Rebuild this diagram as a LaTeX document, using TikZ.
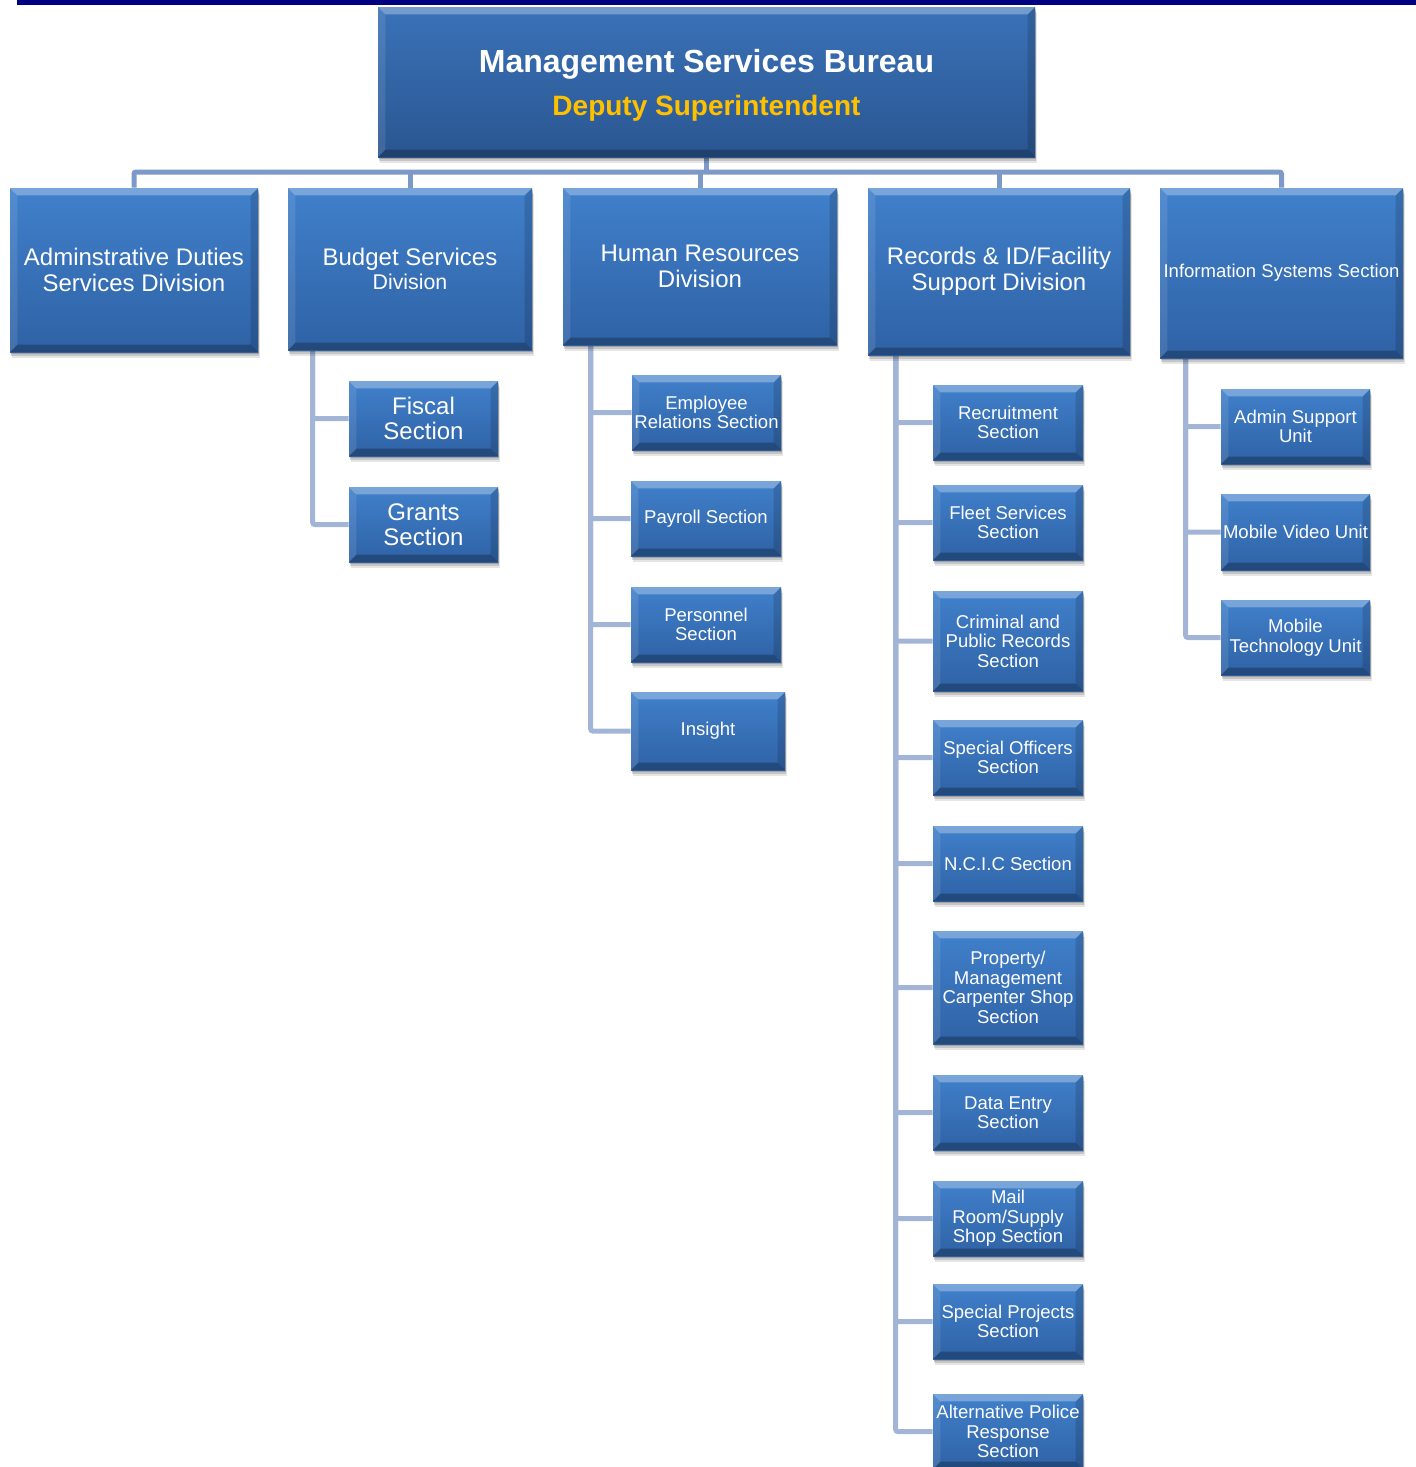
\documentclass[tikz,border=0pt]{standalone}
\usepackage{fontspec}
\setmainfont{Liberation Sans}
\usetikzlibrary{shadows}

\definecolor{navybar}{HTML}{000080}
\definecolor{boxtop}{HTML}{4080CB}
\definecolor{boxbot}{HTML}{2F62A5}
\definecolor{headtop}{HTML}{3A72B8}
\definecolor{headbot}{HTML}{2A5691}
\definecolor{linkmain}{HTML}{7D99C9}
\definecolor{linksub}{HTML}{A3B5D6}
\definecolor{gold}{HTML}{FFC000}

\pgfdeclarelayer{background}
\pgfsetlayers{background,main}

\def\bevelsz{5.5pt}

\tikzset{
  x=0.75pt, y=-0.75pt,
  orgbox/.style={
    rectangle, inner sep=0pt, align=center, text=white,
    top color=boxtop, bottom color=boxbot,
    drop shadow={shadow xshift=1.5pt, shadow yshift=-4.5pt, opacity=0.10, fill=black},
    drop shadow={shadow xshift=1pt, shadow yshift=-3pt, opacity=0.14, fill=black},
    drop shadow={shadow xshift=0.5pt, shadow yshift=-1.5pt, opacity=0.18, fill=black},
    path picture={
      \fill[white, opacity=0.30]
        (path picture bounding box.north west) -- (path picture bounding box.north east)
        -- ([xshift=-\bevelsz, yshift=-\bevelsz]path picture bounding box.north east)
        -- ([xshift=\bevelsz, yshift=-\bevelsz]path picture bounding box.north west) -- cycle;
      \fill[white, opacity=0.10]
        (path picture bounding box.north west) -- (path picture bounding box.south west)
        -- ([xshift=\bevelsz, yshift=\bevelsz]path picture bounding box.south west)
        -- ([xshift=\bevelsz, yshift=-\bevelsz]path picture bounding box.north west) -- cycle;
      \fill[black, opacity=0.14]
        (path picture bounding box.north east) -- (path picture bounding box.south east)
        -- ([xshift=-\bevelsz, yshift=\bevelsz]path picture bounding box.south east)
        -- ([xshift=-\bevelsz, yshift=-\bevelsz]path picture bounding box.north east) -- cycle;
      \fill[black, opacity=0.25]
        (path picture bounding box.south west) -- (path picture bounding box.south east)
        -- ([xshift=-\bevelsz, yshift=\bevelsz]path picture bounding box.south east)
        -- ([xshift=\bevelsz, yshift=\bevelsz]path picture bounding box.south west) -- cycle;
    }
  },
  headbox/.style={orgbox, top color=headtop, bottom color=headbot,
    font=\bfseries\fontsize{24}{32}\selectfont},
  divbox/.style={orgbox, font=\fontsize{18}{19.5}\selectfont},
  bigsub/.style={orgbox, font=\fontsize{18}{18.75}\selectfont},
  subbox/.style={orgbox, font=\fontsize{13.9}{14.6}\selectfont},
  infobox/.style={orgbox, font=\fontsize{13.9}{14.6}\selectfont},
  mainlink/.style={draw=linkmain, line width=3.75pt, rounded corners=1.5pt},
  sublink/.style={draw=linksub, line width=3.75pt, rounded corners=1.5pt},
}

% \orgnode[style]{name}{x1}{y1}{x2}{y2}{text}
\newcommand\orgnode[7][]{%
  \node[#1, minimum width={(#5-#3)*0.75pt}, minimum height={(#6-#4)*0.75pt}]
    (#2) at ({(#3+#5)/2},{(#4+#6)/2}) {#7};}

\begin{document}
\begin{tikzpicture}
\useasboundingbox (0,0) rectangle (1416,1467);

% rule across the top
\fill[navybar] (17,0) rectangle (1416,4.5);

% bureau head
\orgnode[headbox]{head}{378}{7}{1035}{157}{\rule{0pt}{22pt}Management Services Bureau\\[0.5pt]{\color{gold}\fontsize{21}{32}\selectfont Deputy Superintendent}}

% divisions
\orgnode[divbox]{adm}{10}{188}{258}{352}{Adminstrative Duties\\Services Division}
\orgnode[divbox, font=\fontsize{18}{18}\selectfont]{bud}{288}{188}{532}{350}{Budget Services\\{\fontsize{16}{18}\selectfont Division}}
\orgnode[divbox]{hr}{563}{188}{837}{345}{Human Resources\\Division}
\orgnode[divbox]{rec}{868}{188}{1130}{355}{Records \& ID/Facility\\Support Division}
\orgnode[infobox]{info}{1160}{188}{1403}{358}{Information Systems Section}

% budget sections
\orgnode[bigsub]{fiscal}{349}{381}{498}{456}{Fiscal\\Section}
\orgnode[bigsub]{grants}{349}{487}{498}{562}{Grants\\Section}

% human resources sections
\orgnode[subbox]{emp}{632}{375}{781}{450}{Employee\\Relations Section}
\orgnode[subbox]{pay}{631}{481}{781}{556}{Payroll Section}
\orgnode[subbox]{pers}{631}{587}{781}{662}{Personnel\\Section}
\orgnode[subbox]{ins}{631}{692}{785}{770}{Insight}

% records sections
\orgnode[subbox]{recr}{933}{385}{1083}{460}{Recruitment\\Section}
\orgnode[subbox]{fleet}{933}{485}{1083}{560}{Fleet Services\\Section}
\orgnode[subbox]{crim}{933}{591}{1083}{691}{Criminal and\\Public Records\\Section}
\orgnode[subbox]{spo}{933}{720}{1083}{795}{Special Officers\\Section}
\orgnode[subbox]{ncic}{933}{826}{1083}{901}{N.C.I.C Section}
\orgnode[subbox]{prop}{933}{931}{1083}{1044}{Property/\\Management\\Carpenter Shop\\Section}
\orgnode[subbox]{data}{933}{1075}{1083}{1150}{Data Entry\\Section}
\orgnode[subbox]{mail}{933}{1181}{1083}{1256}{Mail\\Room/Supply\\Shop Section}
\orgnode[subbox]{spp}{933}{1284}{1083}{1359}{Special Projects\\Section}
\orgnode[subbox]{alt}{933}{1394}{1083}{1469}{Alternative Police\\Response\\Section}

% information systems units
\orgnode[subbox]{adms}{1221}{389}{1370}{464}{Admin Support\\Unit}
\orgnode[subbox]{mvid}{1221}{494}{1370}{570}{Mobile Video Unit}
\orgnode[subbox]{mtech}{1221}{600}{1370}{675}{Mobile\\Technology Unit}

% connectors, kept behind the boxes
\begin{pgfonlayer}{background}
  \coordinate (bar) at (0,172);
  \path[mainlink] (head.south) -- (head.south |- bar);
  \path[mainlink] (adm.north) |- (info.north |- bar) -- (info.north);
  \path[mainlink] (bud.north) -- (bud.north |- bar);
  \path[mainlink] (hr.north) -- (hr.north |- bar);
  \path[mainlink] (rec.north) -- (rec.north |- bar);

  \coordinate (budspine) at ([xshift=18.75pt]bud.south west);
  \foreach \s in {fiscal,grants}
    \path[sublink] (budspine) |- (\s.west);

  \coordinate (hrspine) at ([xshift=21pt]hr.south west);
  \foreach \s in {emp,pay,pers,ins}
    \path[sublink] (hrspine) |- (\s.west);

  \coordinate (recspine) at ([xshift=21pt]rec.south west);
  \foreach \s in {recr,fleet,crim,spo,ncic,prop,data,mail,spp,alt}
    \path[sublink] (recspine) |- (\s.west);

  \coordinate (infospine) at ([xshift=19.5pt]info.south west);
  \foreach \s in {adms,mvid,mtech}
    \path[sublink] (infospine) |- (\s.west);
\end{pgfonlayer}
\end{tikzpicture}
\end{document}
